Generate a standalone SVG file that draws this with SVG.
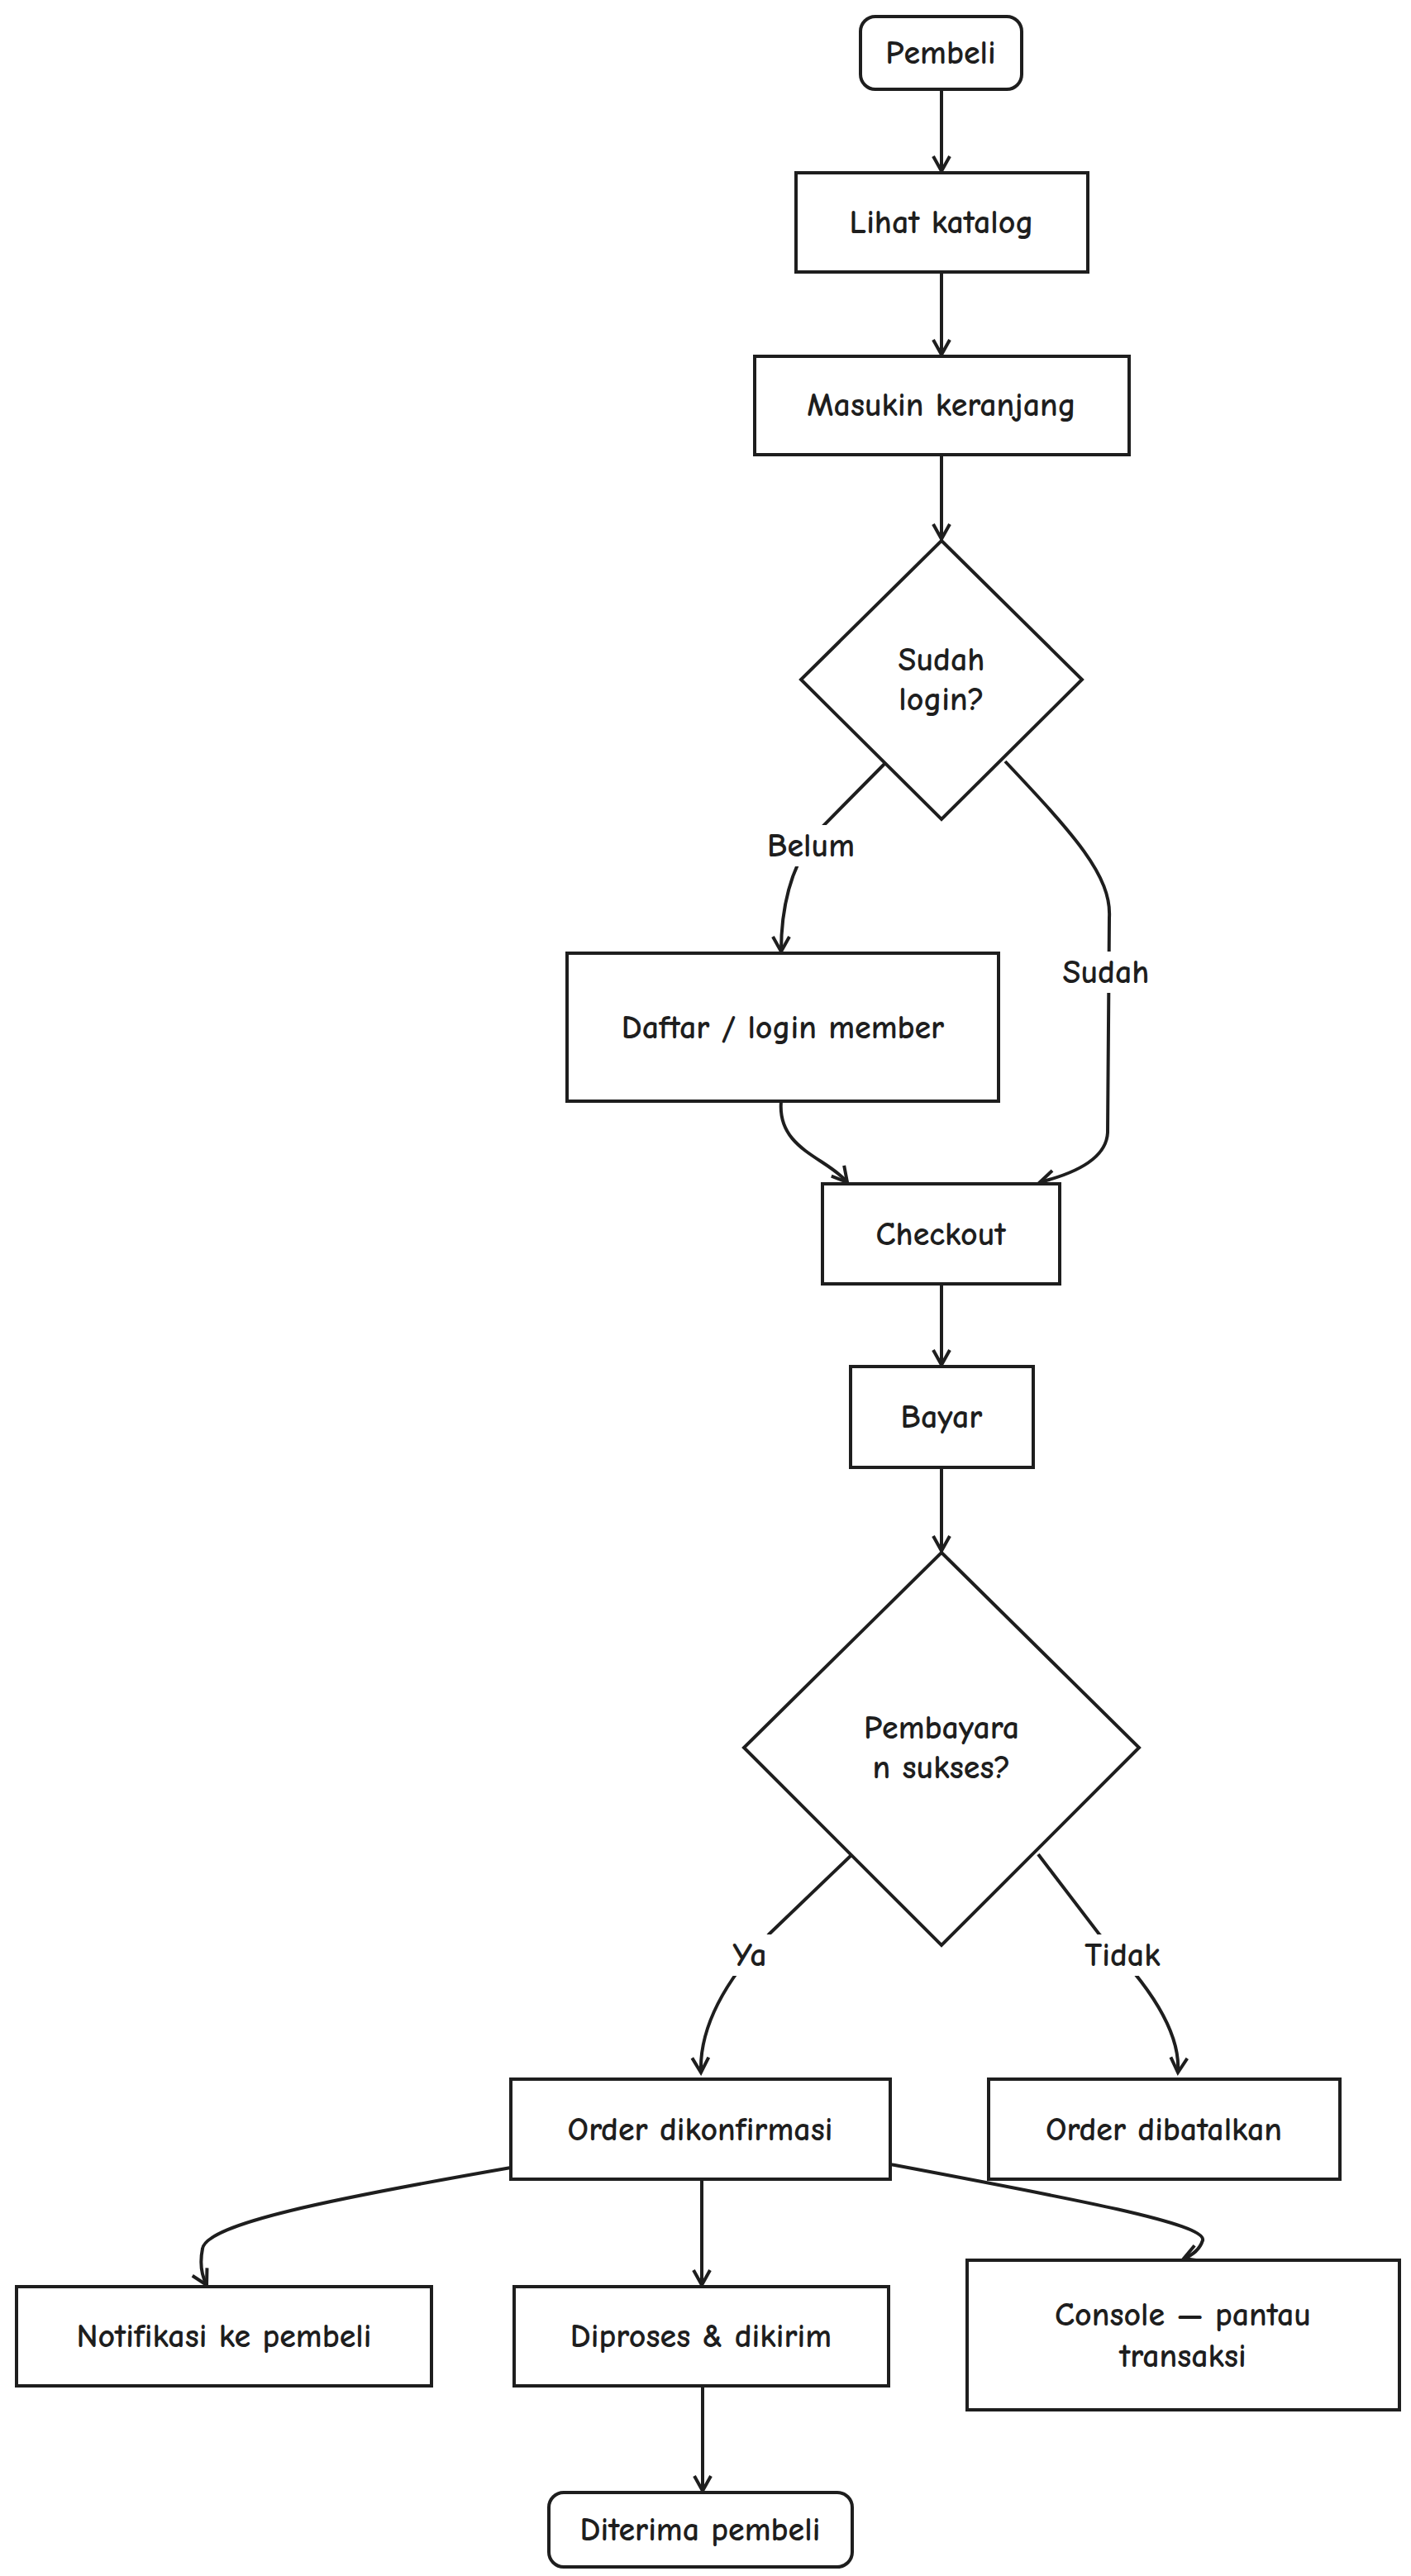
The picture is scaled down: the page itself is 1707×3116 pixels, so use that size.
<svg xmlns="http://www.w3.org/2000/svg" width="1707" height="3116" viewBox="0 0 1707 3116">
<style>
.n{fill:#fff;stroke:#1e1e1e;stroke-width:4}
.t{font-family:"Comic Neue","Liberation Sans",sans-serif;font-size:40px;font-weight:bold;fill:#1e1e1e;text-anchor:middle;dominant-baseline:central}
.c{fill:none;stroke:#1e1e1e;stroke-width:4}
.lb{fill:#fff}
</style>
<defs>
<marker id="a" markerWidth="24" markerHeight="24" refX="20" refY="12" orient="auto" markerUnits="userSpaceOnUse">
<path d="M2,2 L20,12 L2,22" fill="none" stroke="#1e1e1e" stroke-width="4"/>
</marker>
</defs>
<rect width="1707" height="3116" fill="#fff"/>
<g id="connectors">
<path class="c" marker-end="url(#a)" d="M1139,108 L1139,207"/>
<path class="c" marker-end="url(#a)" d="M1139,329 L1139,429"/>
<path class="c" marker-end="url(#a)" d="M1139,550 L1139,652"/>
<path class="c" marker-end="url(#a)" d="M1073,921 L990,1005 Q945,1060 945,1151"/>
<path class="c" marker-end="url(#a)" d="M1216,921 C1300,1010 1345,1060 1342,1110 L1340,1370 Q1338,1410 1258,1430"/>
<path class="c" marker-end="url(#a)" d="M945,1332 C940,1390 1000,1400 1025,1430"/>
<path class="c" marker-end="url(#a)" d="M1139,1553 L1139,1651"/>
<path class="c" marker-end="url(#a)" d="M1139,1775 L1139,1876"/>
<path class="c" marker-end="url(#a)" d="M1031,2243 L930,2340 Q845,2430 848,2507"/>
<path class="c" marker-end="url(#a)" d="M1256,2243 L1330,2340 Q1430,2440 1425,2507"/>
<path class="c" marker-end="url(#a)" d="M618,2622 C400,2660 250,2690 245,2720 Q240,2745 250,2764"/>
<path class="c" marker-end="url(#a)" d="M849,2636 L849,2764"/>
<path class="c" marker-end="url(#a)" d="M1077,2618 C1300,2660 1460,2690 1455,2710 Q1450,2725 1432,2732"/>
<path class="c" marker-end="url(#a)" d="M850,2886 L850,3013"/>
<rect class="lb" x="921" y="998" width="120" height="50"/><text class="t" x="981" y="1023">Belum</text>
<rect class="lb" x="1276" y="1151" width="124" height="50"/><text class="t" x="1338" y="1176">Sudah</text>
<rect class="lb" x="877" y="2340" width="60" height="50"/><text class="t" x="907" y="2365">Ya</text>
<rect class="lb" x="1303" y="2340" width="110" height="50"/><text class="t" x="1358" y="2365">Tidak</text>
</g>
<g id="pembeli"><rect class="n" x="1041" y="20" width="195" height="88" rx="18"/><text class="t" x="1138" y="64">Pembeli</text></g>
<g id="lihat"><rect class="n" x="963" y="209" width="353" height="120"/><text class="t" x="1139" y="269">Lihat katalog</text></g>
<g id="masukin"><rect class="n" x="913" y="431" width="453" height="119"/><text class="t" x="1139" y="490">Masukin keranjang</text></g>
<g id="login"><polygon class="n" points="1139,654 1309,822 1139,991 969,822"/><text class="t" x="1139" y="798">Sudah</text><text class="t" x="1139" y="846">login?</text></g>
<g id="daftar"><rect class="n" x="686" y="1153" width="522" height="179"/><text class="t" x="947" y="1243">Daftar / login member</text></g>
<g id="checkout"><rect class="n" x="995" y="1432" width="287" height="121"/><text class="t" x="1138" y="1493">Checkout</text></g>
<g id="bayar"><rect class="n" x="1029" y="1653" width="221" height="122"/><text class="t" x="1139" y="1714">Bayar</text></g>
<g id="sukses"><polygon class="n" points="1139,1878 1378,2114 1139,2353 900,2114"/><text class="t" x="1139" y="2090">Pembayara</text><text class="t" x="1139" y="2138">n sukses?</text></g>
<g id="konfirmasi"><rect class="n" x="618" y="2515" width="459" height="121"/><text class="t" x="847" y="2576">Order dikonfirmasi</text></g>
<g id="batal"><rect class="n" x="1196" y="2515" width="425" height="121"/><text class="t" x="1408" y="2576">Order dibatalkan</text></g>
<g id="notifikasi"><rect class="n" x="20" y="2766" width="502" height="120"/><text class="t" x="271" y="2826">Notifikasi ke pembeli</text></g>
<g id="diproses"><rect class="n" x="622" y="2766" width="453" height="120"/><text class="t" x="848" y="2826">Diproses &amp; dikirim</text></g>
<g id="console"><rect class="n" x="1170" y="2734" width="523" height="181"/><text class="t" x="1431" y="2800">Console — pantau</text><text class="t" x="1431" y="2850">transaksi</text></g>
<g id="diterima"><rect class="n" x="664" y="3015" width="367" height="90" rx="18"/><text class="t" x="847" y="3060">Diterima pembeli</text></g>
</svg>
